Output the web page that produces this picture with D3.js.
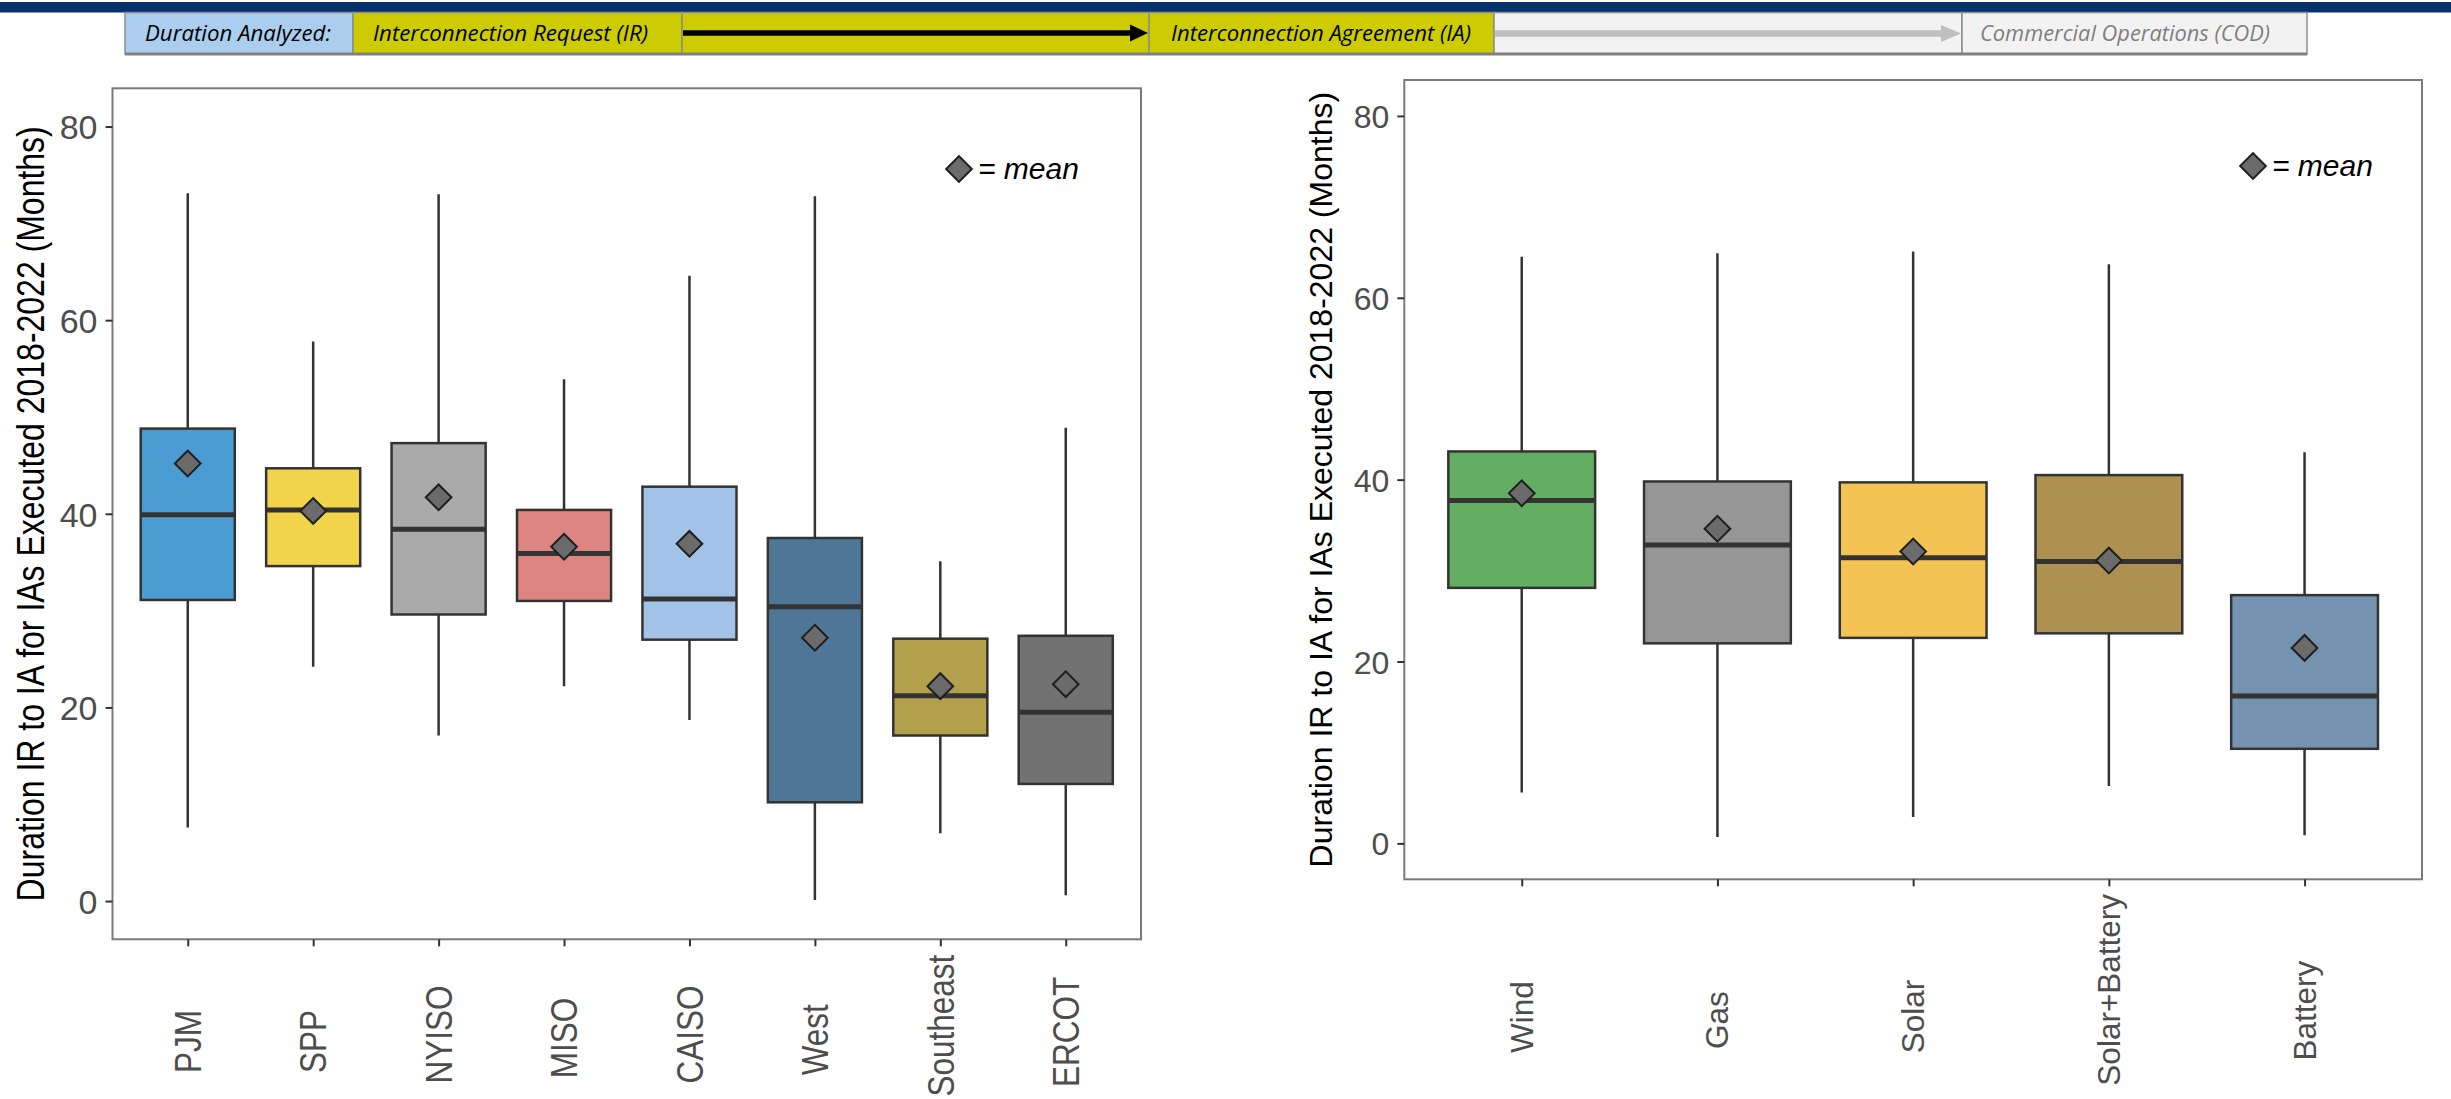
<!DOCTYPE html>
<html>
<head>
<meta charset="utf-8">
<script src="https://cdn.jsdelivr.net/npm/d3@7"></script>
<style>
  html, body { margin: 0; padding: 0; background: #ffffff; }
  svg { display: block; }
</style>
</head>
<body>
<svg id="chart" width="2451" height="1099"></svg>
<script>
// ---- Data: IR-to-IA durations (months), box statistics per group ----
const regions      = ["PJM", "SPP", "NYISO", "MISO", "CAISO", "West", "Southeast", "ERCOT"];
const regionLow    = [7.6, 24.2, 17.1, 22.2, 18.7, 0.1, 7.0, 0.6];
const regionQ1     = [31.1, 34.6, 29.6, 31.0, 27.0, 10.2, 17.1, 12.1];
const regionMedian = [39.9, 40.4, 38.4, 35.9, 31.2, 30.4, 21.2, 19.5];
const regionQ3     = [48.8, 44.7, 47.3, 40.4, 42.8, 37.5, 27.1, 27.4];
const regionHigh   = [73.1, 57.8, 73.0, 53.9, 64.6, 72.8, 35.1, 48.9];
const regionMean   = [45.2, 40.3, 41.7, 36.6, 36.9, 27.2, 22.2, 22.4];
const regionColors = ["#4b9cd3", "#f2d44b", "#aaaaaa", "#dd8580", "#a2c2e8", "#4e7696", "#b3a04c", "#727272"];

const techs      = ["Wind", "Gas", "Solar", "Solar+Battery", "Battery"];
const techLow    = [5.6, 0.7, 2.9, 6.3, 0.9];
const techQ1     = [28.1, 22.0, 22.6, 23.1, 10.4];
const techMedian = [37.7, 32.8, 31.4, 31.0, 16.2];
const techQ3     = [43.1, 39.8, 39.7, 40.5, 27.3];
const techHigh   = [64.5, 64.9, 65.1, 63.7, 43.0];
const techMean   = [38.5, 34.6, 32.1, 31.1, 21.5];
const techColors = ["#63ae62", "#969696", "#f3c454", "#ae9150", "#7493b1"];

const yTicks = [0, 20, 40, 60, 80];
const yTitle = "Duration IR to IA for IAs Executed 2018-2022 (Months)";

// Process banner stages
const stageLabels = ["Duration Analyzed:", "Interconnection Request (IR)", "", "Interconnection Agreement (IA)", "", "Commercial Operations (COD)"];
const stageFills  = ["#abcdee", "#cccc00", "#cccc00", "#cccc00", "#f2f2f2", "#f2f2f2"];
const stageText   = ["#000000", "#000000", "#000000", "#000000", "#7f7f7f", "#7f7f7f"];

const svg = d3.select("#chart");
const FONT = "'Liberation Sans', Arial, sans-serif";

// ---------------- Banner ----------------
svg.append("rect").attr("x", 0).attr("y", 2).attr("width", 2451).attr("height", 10.5).attr("fill", "#08326e");

const stageEdges = [125, 353, 682, 1149, 1494, 1962, 2307];
const stageTextSpan = [[145, 331], [373, 648], null, [1171, 1471], null, [1980, 2270]];
const bTop = 12.5, bBot = 54;
const banner = svg.append("g");
stageLabels.forEach((lab, i) => {
  banner.append("rect")
    .attr("x", stageEdges[i]).attr("y", bTop)
    .attr("width", stageEdges[i + 1] - stageEdges[i]).attr("height", bBot - bTop)
    .attr("fill", stageFills[i]).attr("stroke", "#8c8c8c").attr("stroke-width", 1.5);
  if (lab) {
    const sp = stageTextSpan[i];
    banner.append("text")
      .attr("x", sp[0]).attr("y", 40.5)
      .attr("font-family", "'Open Sans', sans-serif").attr("font-style", "italic")
      .attr("font-size", 21).attr("fill", stageText[i])
      .attr("textLength", sp[1] - sp[0]).attr("lengthAdjust", "spacingAndGlyphs")
      .text(lab);
  }
});
banner.append("line").attr("x1", 125).attr("x2", 2307).attr("y1", bBot).attr("y2", bBot)
  .attr("stroke", "#808080").attr("stroke-width", 3);

// arrows between stages
function arrow(x0, x1, y, th, headLen, headH, color) {
  banner.append("rect").attr("x", x0).attr("y", y - th / 2).attr("width", x1 - headLen - x0).attr("height", th).attr("fill", color);
  banner.append("path")
    .attr("d", `M${x1 - headLen},${y - headH / 2} L${x1},${y} L${x1 - headLen},${y + headH / 2} Z`)
    .attr("fill", color);
}
arrow(683, 1148, 33, 5.5, 18, 17, "#000000");
arrow(1495, 1961, 33.5, 6.5, 20, 17, "#bfbfbf");

// ---------------- Box panels ----------------
function drawPanel(cfg) {
  const g = svg.append("g");
  const x = d3.scalePoint().domain(cfg.cats).range([cfg.left, cfg.right]).padding(0.6);
  const y = d3.scaleLinear().domain([-3.95, 83.95]).range([cfg.bottom, cfg.top]);
  const bw = x.step() * 0.75;

  const rows = cfg.cats.map((c, i) => ({
    c, lo: cfg.lo[i], q1: cfg.q1[i], med: cfg.med[i], q3: cfg.q3[i], hi: cfg.hi[i], mean: cfg.mean[i], col: cfg.colors[i]
  }));

  // panel border
  g.append("rect").attr("x", cfg.left).attr("y", cfg.top)
    .attr("width", cfg.right - cfg.left).attr("height", cfg.bottom - cfg.top)
    .attr("fill", "none").attr("stroke", "#7a7a7a").attr("stroke-width", 2);

  // axes
  const ya = g.append("g").attr("transform", `translate(${cfg.left},0)`)
    .call(d3.axisLeft(y).tickValues(yTicks).tickSize(7).tickPadding(8).tickFormat(d3.format("d")));
  ya.select(".domain").remove();
  ya.selectAll(".tick line").attr("stroke", "#333333").attr("stroke-width", 2);
  ya.selectAll(".tick text").attr("font-family", FONT).attr("font-size", cfg.tickFont).attr("fill", "#4d4d4d").attr("dy", "0.36em");

  const xa = g.append("g").attr("transform", `translate(0,${cfg.bottom})`)
    .call(d3.axisBottom(x).tickSize(7).tickFormat(""));
  xa.select(".domain").remove();
  xa.selectAll(".tick line").attr("stroke", "#333333").attr("stroke-width", 2);

  // rotated category labels
  const labs = g.selectAll("text.cat").data(rows).join("text")
    .attr("class", "cat")
    .attr("font-family", FONT).attr("font-size", 31.5).attr("fill", "#4d4d4d")
    .attr("text-anchor", "middle")
    .text(d => d.c);
  labs.each(function (d) {
    const L = this.getComputedTextLength();
    const cy = cfg.labAnchor - cfg.labShift * L;
    d3.select(this).attr("transform",
      `translate(${x(d.c) + 11 * cfg.rotStretch},${cy}) scale(${cfg.rotStretch},1) rotate(-90)`);
  });

  // whiskers
  g.selectAll("line.wh").data(rows).join("line")
    .attr("x1", d => x(d.c)).attr("x2", d => x(d.c))
    .attr("y1", d => y(d.hi)).attr("y2", d => y(d.lo))
    .attr("stroke", "#333333").attr("stroke-width", 2.5);

  // boxes
  g.selectAll("rect.box").data(rows).join("rect")
    .attr("x", d => x(d.c) - bw / 2).attr("width", bw)
    .attr("y", d => y(d.q3)).attr("height", d => y(d.q1) - y(d.q3))
    .attr("fill", d => d.col).attr("stroke", "#333333").attr("stroke-width", 2.5);

  // medians
  g.selectAll("line.med").data(rows).join("line")
    .attr("x1", d => x(d.c) - bw / 2).attr("x2", d => x(d.c) + bw / 2)
    .attr("y1", d => y(d.med)).attr("y2", d => y(d.med))
    .attr("stroke", "#333333").attr("stroke-width", 5);

  // means (diamonds)
  const diamond = d3.symbol().type(d3.symbolSquare).size(330);
  g.selectAll("path.mean").data(rows).join("path")
    .attr("d", diamond)
    .attr("transform", d => `translate(${x(d.c)},${y(d.mean)}) rotate(45)`)
    .attr("fill", "#6b6b6b").attr("stroke", "#1f1f1f").attr("stroke-width", 2);

  // legend note
  g.append("path").attr("d", diamond)
    .attr("transform", `translate(${cfg.legX},${cfg.legY}) rotate(45)`)
    .attr("fill", "#6b6b6b").attr("stroke", "#1f1f1f").attr("stroke-width", 2);
  g.append("text").attr("x", cfg.legX + 19).attr("y", cfg.legY + 10)
    .attr("font-family", FONT).attr("font-style", "italic").attr("font-size", 30).attr("fill", "#000")
    .text("= mean");

  // y title
  g.append("text")
    .attr("transform", `translate(${cfg.titleX},${(cfg.top + cfg.bottom) / 2}) scale(${cfg.rotStretch},1) rotate(-90)`)
    .attr("text-anchor", "middle")
    .attr("font-family", FONT).attr("font-size", 32).attr("fill", "#000")
    .text(yTitle);
}

drawPanel({
  cats: regions, lo: regionLow, q1: regionQ1, med: regionMedian, q3: regionQ3, hi: regionHigh, mean: regionMean,
  colors: regionColors,
  left: 112.5, right: 1141, top: 88.3, bottom: 939.3,
  labAnchor: 1054, labShift: 0.2, rotStretch: 1.2, tickFont: 34,
  legX: 959, legY: 169, titleX: 44
});

drawPanel({
  cats: techs, lo: techLow, q1: techQ1, med: techMedian, q3: techQ3, hi: techHigh, mean: techMean,
  colors: techColors,
  left: 1404.3, right: 2422, top: 80, bottom: 879.3,
  labAnchor: 1033.3, labShift: 0.227, rotStretch: 1.0, tickFont: 32,
  legX: 2253, legY: 166, titleX: 1332
});
</script>
</body>
</html>
